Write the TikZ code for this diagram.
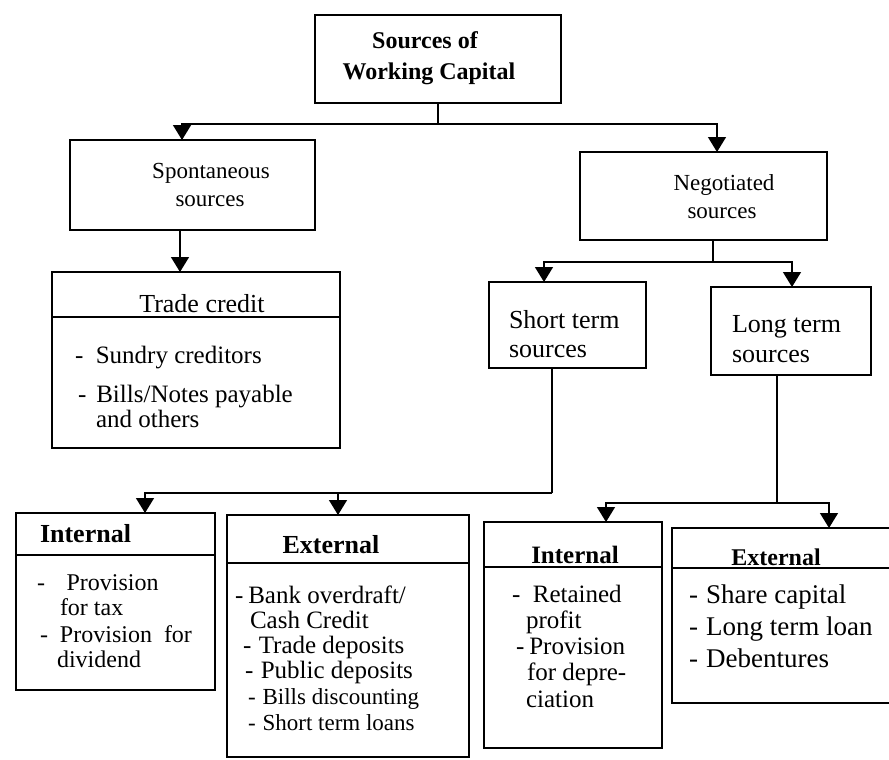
\documentclass[tikz,border=0pt]{standalone}
\usepackage{fontspec}
\setmainfont{Liberation Serif}
\usetikzlibrary{arrows.meta}
\begin{document}
\begin{tikzpicture}[x=1pt,y=-1pt,
  box/.style={draw, line width=1.6pt, inner sep=0pt, outer sep=0pt},
  link/.style={line width=1.4pt},
  arr/.style={link, -{Triangle[width=18pt,length=15pt]}},
  txt/.style={inner sep=0pt, outer sep=0pt, anchor=base west},
  ctxt/.style={inner sep=0pt, outer sep=0pt, anchor=base},
  sz/.style={font=\fontsize{#1}{#1}\selectfont},
  hd/.style={font=\fontsize{#1}{#1}\selectfont\bfseries}]
\useasboundingbox (0,0) rectangle (889,760);
\clip (0,0) rectangle (889,760);

% boxes
\node[box, minimum width=246pt, minimum height=88pt]  (top)   at (438,59) {};
\node[box, minimum width=245pt, minimum height=90pt]  (spont) at (192.5,185) {};
\node[box, minimum width=247pt, minimum height=88pt]  (neg)   at (703.5,196) {};
\node[box, minimum width=288pt, minimum height=176pt] (trade) at (196,360) {};
\node[box, minimum width=157pt, minimum height=86pt]  (short) at (567.5,325) {};
\node[box, minimum width=160pt, minimum height=88pt]  (long)  at (791,331) {};
\node[box, minimum width=199pt, minimum height=177pt] (intA)  at (115.5,601.5) {};
\node[box, minimum width=242pt, minimum height=242pt] (extA)  at (348,636) {};
\node[box, minimum width=178pt, minimum height=226pt] (intB)  at (573,635) {};
\node[box, minimum width=238pt, minimum height=175pt] (extB)  at (791,615.5) {};

% header rules
\draw[link] ([yshift=-45pt]trade.north west) -- ([yshift=-45pt]trade.north east);
\draw[link] ([yshift=-42pt]intA.north west) -- ([yshift=-42pt]intA.north east);
\draw[link] ([yshift=-48pt]extA.north west) -- ([yshift=-48pt]extA.north east);
\draw[link] ([yshift=-45pt]intB.north west) -- ([yshift=-45pt]intB.north east);
\draw[link] ([yshift=-40pt]extB.north west) -- ([yshift=-40pt]extB.north east);

% connectors
\coordinate (j1) at (438,124);
\draw[link] (top.south) -- (j1);
\draw[arr] (j1) -| ([xshift=-10.5pt]spont.north);
\draw[arr] (j1) -| ([xshift=13.5pt]neg.north);
\draw[arr] ([xshift=-12.5pt]spont.south) -- ([xshift=-12.5pt]spont.south |- trade.north);

\coordinate (j2) at (713,262);
\draw[link] ([xshift=9.5pt]neg.south) -- (j2);
\draw[arr] (j2) -| ([xshift=-23.5pt]short.north);
\draw[arr] (j2) -| ([xshift=1pt]long.north);

\coordinate (j3) at (552,493);
\draw[link] ([xshift=-15.5pt]short.south) -- (j3);
\draw[arr] (j3) -| ([xshift=29.5pt]intA.north);
\draw[arr] (j3) -| ([xshift=-10pt]extA.north);

\coordinate (j4) at (777,503);
\draw[link] ([xshift=-14pt]long.south) -- (j4);
\draw[arr] (j4) -| ([xshift=33pt]intB.north);
\draw[arr] (j4) -| ([xshift=38pt]extB.north);

% titles
\node[ctxt, hd=24] (t1) at (425,49) {Sources of};
\node[ctxt, hd=24] (t2) at (429,80) {Working Capital};
\node[ctxt, sz=23] (s1) at (211,178) {Spontaneous};
\node[ctxt, sz=23] (s2) at (210,206) {sources};
\node[ctxt, sz=23] (n1) at (724,190) {Negotiated};
\node[ctxt, sz=23] (n2) at (722,218) {sources};
\node[ctxt, sz=26] (tc) at (202,312) {Trade credit};
\node[txt, sz=26] (st1) at (509,328) {Short term};
\node[txt, sz=26] (st2) at (509,357) {sources};
\node[txt, sz=26] (lt1) at (732,332) {Long term};
\node[txt, sz=26] (lt2) at (732,362) {sources};

% trade credit items
\node[txt, sz=25] (tc1) at (75,363) {-\hspace{0.5em}Sundry creditors};
\node[txt, sz=25] (tc2) at (78,402) {-\hspace{0.4em}Bills/Notes payable};
\node[txt, sz=25] (tc3) at (96,427) {and others};

% short term: internal
\node[txt, hd=26] (ia) at (40,542) {Internal};
\node[txt, sz=24] (ia1) at (37,590) {-\hspace{0.9em}Provision};
\node[txt, sz=24] (ia2) at (60,615) {for tax};
\node[txt, sz=24] (ia3) at (40,642) {-\hspace{0.5em}Provision\hspace{0.5em}for};
\node[txt, sz=24] (ia4) at (57,667) {dividend};

% short term: external
\node[ctxt, hd=26] (ea) at (331,553) {External};
\node[txt, sz=25] (ea1) at (235,603) {-\hspace{0.2em}Bank overdraft/};
\node[txt, sz=25] (ea2) at (250,628) {Cash Credit};
\node[txt, sz=25] (ea3) at (243,653) {-\hspace{0.3em}Trade deposits};
\node[txt, sz=25] (ea4) at (245,678) {-\hspace{0.3em}Public deposits};
\node[txt, sz=23] (ea5) at (248,704) {-\hspace{0.3em}Bills discounting};
\node[txt, sz=23] (ea6) at (248,730) {-\hspace{0.3em}Short term loans};

% long term: internal
\node[ctxt, hd=25] (ib) at (575,563) {Internal};
\node[txt, sz=25] (ib1) at (512,602) {-\hspace{0.5em}Retained};
\node[txt, sz=25] (ib2) at (526,628) {profit};
\node[txt, sz=25] (ib3) at (516,654) {-\hspace{0.2em}Provision};
\node[txt, sz=25] (ib4) at (527,680) {for depre-};
\node[txt, sz=25] (ib5) at (526,707) {ciation};

% long term: external
\node[ctxt, hd=24] (eb) at (776,565) {External};
\node[txt, sz=27] (eb1) at (689,603) {-\hspace{0.3em}Share capital};
\node[txt, sz=27] (eb2) at (689,635) {-\hspace{0.3em}Long term loan};
\node[txt, sz=27] (eb3) at (689,667) {-\hspace{0.3em}Debentures};
\end{tikzpicture}
\end{document}
